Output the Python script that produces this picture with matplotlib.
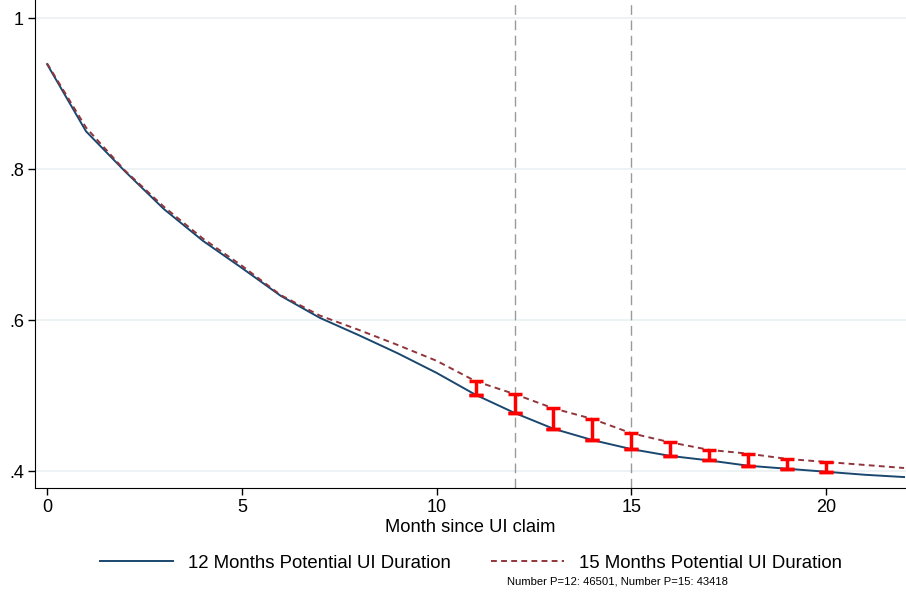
import matplotlib.pyplot as plt
import numpy as np

plt.rcParams['font.family'] = ['Liberation Sans', 'DejaVu Sans']

meses = np.arange(0, 23)
p12 = [0.939, 0.850, 0.797, 0.747, 0.705, 0.669, 0.632, 0.603, 0.580, 0.556,
       0.530, 0.501, 0.477, 0.456, 0.441, 0.429, 0.420, 0.414, 0.407, 0.403,
       0.399, 0.395, 0.392]
p15 = [0.940, 0.855, 0.798, 0.750, 0.708, 0.672, 0.633, 0.606, 0.587, 0.567,
       0.546, 0.519, 0.502, 0.483, 0.469, 0.450, 0.438, 0.428, 0.423, 0.416,
       0.412, 0.408, 0.404]
meses_ic = np.arange(11, 21)
lineas_v = [12, 15]
nota = "Number P=12: 46501, Number P=15: 43418"

fig = plt.figure(figsize=(9.06, 5.92), dpi=100)
ax = fig.add_axes([35 / 906, 1 - 488 / 592, 1 - 35 / 906, 488 / 592])

for y in [0.4, 0.6, 0.8, 1.0]:
    ax.axhline(y, color='#eaf0f2', lw=1.2, zorder=0)
for x in lineas_v:
    ax.axvline(x, color='#9a9a9a', lw=1, ls=(0, (7, 4)), zorder=1)

l1, = ax.plot(meses, p12, color='#1a476f', lw=1.4, zorder=3,
              label='12 Months Potential UI Duration')
l2, = ax.plot(meses, p15, color='#90353b', lw=1.4, ls=(0, (3, 2.2)), zorder=3,
              label='15 Months Potential UI Duration')

lo = np.array(p12)[meses_ic]
hi = np.array(p15)[meses_ic]
ax.errorbar(meses_ic, lo, yerr=[np.zeros(len(lo)), hi - lo], fmt='none',
            ecolor='red', elinewidth=2.5, capsize=5, capthick=2.5, zorder=4)
ax.plot(meses_ic, lo, ls='none', marker='_', ms=10, mew=2.5, color='red', zorder=4)

ax.set_xlim(-0.31, 22.05)
ax.set_ylim(0.3775, 1.024)
ax.set_xticks([0, 5, 10, 15, 20])
ax.set_yticks([0.4, 0.6, 0.8, 1.0])
ax.set_yticklabels(['.4', '.6', '.8', '1'])
ax.tick_params(labelsize=13, length=5, width=1, direction='out', pad=3)
for s in ['top', 'right']:
    ax.spines[s].set_visible(False)
ax.set_xlabel('Month since UI claim', fontsize=13.2, labelpad=2)

fig.legend(handles=[l1, l2], loc='center', bbox_to_anchor=(471 / 906, 1 - 563 / 592),
           ncol=2, frameon=False, fontsize=13.4, handlelength=3.9, columnspacing=2.2,
           handletextpad=0.8)
fig.text(617 / 906, 1 - 582 / 592, nota, fontsize=8.1, ha='center', va='center')

plt.savefig('out.png', dpi=100)
plt.close()
